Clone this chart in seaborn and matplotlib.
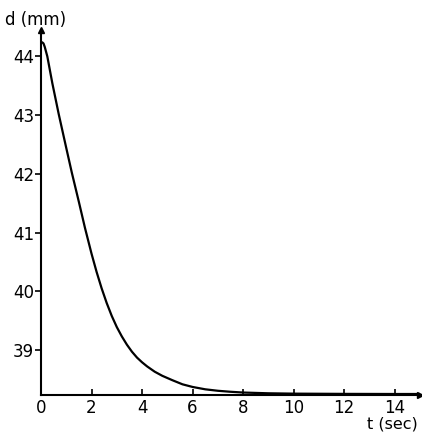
import seaborn as sns
import matplotlib.pyplot as plt
import pandas as pd

# values
t_sec = [0, 0.05, 0.1, 0.15, 0.25, 0.35, 0.45, 0.7, 1.0, 1.22, 1.5, 1.74, 2.0, 2.2,
         2.4, 2.6, 2.8, 3.0, 3.2, 3.4, 3.6, 3.8, 4.0, 4.2, 4.5, 4.8, 5.2, 5.6, 6.0,
         6.5, 7.0, 7.5, 8.0, 9.0, 10, 12, 14, 15]
d_mm = [44.24, 44.24, 44.22, 44.16, 44.0, 43.77, 43.54, 43.02, 42.44, 42.02, 41.52, 41.08, 40.64, 40.33,
        40.05, 39.80, 39.58, 39.39, 39.23, 39.09, 38.97, 38.87, 38.79, 38.72, 38.63, 38.56, 38.485, 38.415, 38.37,
        38.33, 38.305, 38.288, 38.275, 38.262, 38.256, 38.252, 38.25, 38.25]
xticks = [0, 2, 4, 6, 8, 10, 12, 14]
yticks = [39, 40, 41, 42, 43, 44]

df = pd.DataFrame({"t": t_sec, "d": d_mm})

sns.set_style("ticks")
plt.rcParams['font.family'] = ['DejaVu Sans']
plt.rcParams['text.color'] = 'black'
plt.rcParams['xtick.color'] = 'black'
plt.rcParams['ytick.color'] = 'black'

fig = plt.figure(figsize=(4.22, 4.34), dpi=100)
ax = fig.add_axes([41/422, 1 - 395/434, 379/422, 365/434])

sns.lineplot(data=df, x="t", y="d", color="black", linewidth=1.6, ax=ax)

ax.set_xlim(0, 15)
ax.set_ylim(38.233, 44.45)
ax.set_xticks(xticks)
ax.set_yticks(yticks)
ax.tick_params(axis="x", direction="in", length=4, width=1.2, labelsize=12, pad=3)
ax.tick_params(axis="y", direction="out", length=4, width=1.2, labelsize=12, pad=1)
ax.set_xlabel("")
ax.set_ylabel("")

for s in ["top", "right"]:
    ax.spines[s].set_visible(False)
for s in ["left", "bottom"]:
    ax.spines[s].set_linewidth(1.5)
    ax.spines[s].set_color("black")

# axis arrows
ax.plot(0, 1, marker="^", color="black", markersize=5, transform=ax.transAxes, clip_on=False)
ax.plot(1, 0, marker=">", color="black", markersize=5, transform=ax.transAxes, clip_on=False)

fig.text(5/422, 1 - 20/434, "d (mm)", fontsize=12, va="center", ha="left")
fig.text(418/422, 1 - 424/434, "t (sec)", fontsize=11.5, va="center", ha="right")

fig.savefig("out.png", dpi=100)
